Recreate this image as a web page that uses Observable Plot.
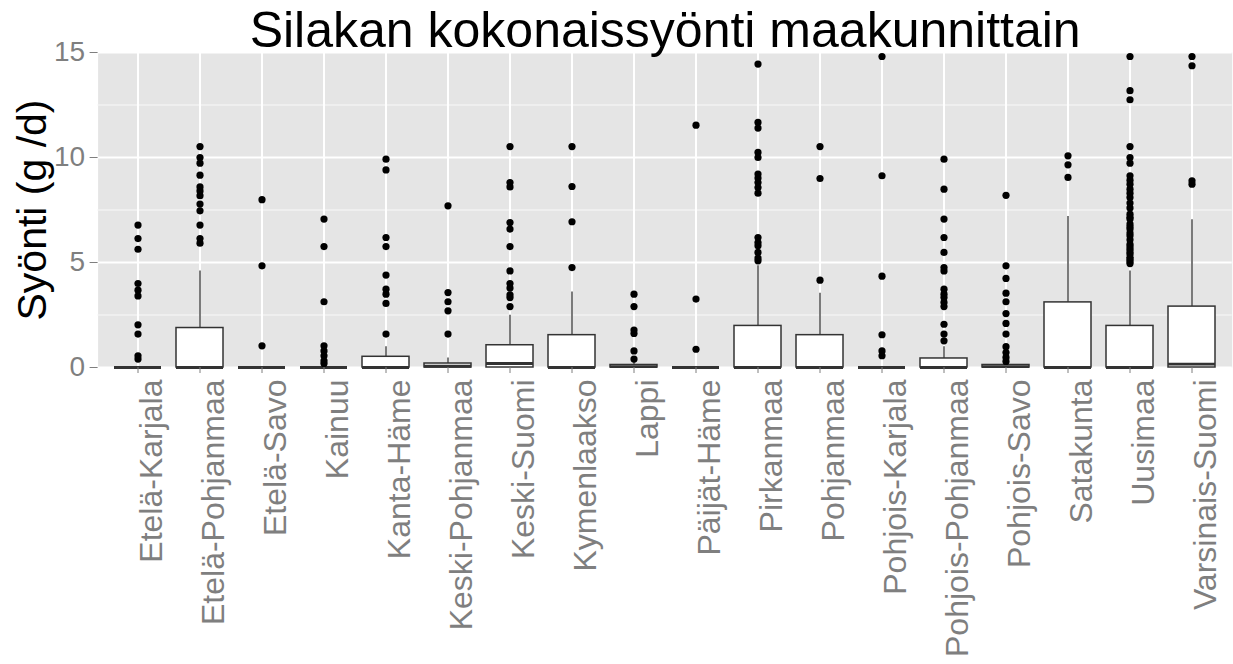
<!DOCTYPE html>
<html>
<head>
<meta charset="utf-8">
<script src="https://cdn.jsdelivr.net/npm/d3@7"></script>
<script src="https://cdn.jsdelivr.net/npm/@observablehq/plot@0.6"></script>
<style>
  html, body { margin: 0; padding: 0; background: #fff; }
  svg { display: block; }
</style>
</head>
<body>
<div id="chart"></div>
<script>
const title = "Silakan kokonaissyönti maakunnittain";
const yTitle = "Syönti (g /d)";
const regions = ["Etelä-Karjala","Etelä-Pohjanmaa","Etelä-Savo","Kainuu","Kanta-Häme","Keski-Pohjanmaa","Keski-Suomi","Kymenlaakso","Lappi","Päijät-Häme","Pirkanmaa","Pohjanmaa","Pohjois-Karjala","Pohjois-Pohjanmaa","Pohjois-Savo","Satakunta","Uusimaa","Varsinais-Suomi"];
const q1 = [0,0,0,0,0,0,0,0,0,0,0,0,0,0,0,0,0,0];
const medians = [0,0,0,0,0,0.06,0.19,0,0.04,0,0,0,0,0,0.04,0,0,0.16];
const q3 = [0,1.88,0,0,0.51,0.19,1.06,1.54,0.12,0,1.98,1.54,0,0.43,0.12,3.1,1.98,2.9];
const whiskerHigh = [0,4.6,0,0,0.99,0.45,2.49,3.6,0.25,0,4.84,3.54,0,0.99,0.25,7.19,4.6,7.03];
const outliers = [
  [6.78,6.14,5.63,4.0,3.68,3.41,2.03,1.59,0.56,0.40],
  [10.52,10.0,9.73,9.16,8.6,8.41,8.18,7.78,7.46,6.78,6.14,5.92],
  [7.99,4.84,1.03],
  [7.07,5.76,3.13,1.03,0.79,0.56,0.32,0.19],
  [9.92,9.41,6.19,5.76,4.4,3.73,3.49,3.05,1.59],
  [7.7,3.57,3.13,2.7,1.59],
  [10.52,8.81,8.6,6.9,6.59,5.76,4.6,4.0,3.78,3.46,3.33,2.9],
  [10.52,8.62,6.94,4.76],
  [3.49,2.9,1.78,1.62,0.79,0.4],
  [11.54,3.26,0.87],
  [14.45,11.67,11.4,10.24,10.0,9.21,9.02,8.81,8.57,8.3,6.19,5.95,5.8,5.48,5.21,5.08],
  [10.52,9.0,4.16],
  [14.81,9.13,4.35,1.56,0.79,0.56],
  [9.92,8.49,7.07,6.19,5.48,4.76,4.6,3.73,3.49,3.33,3.1,2.9,2.06,1.59,1.27],
  [8.2,4.84,4.24,3.54,3.13,2.57,2.1,1.59,0.99,0.71,0.48,0.29],
  [10.08,9.65,9.05],
  [14.81,13.18,12.75,10.52,10.0,9.73,9.13,8.92,8.73,8.49,8.3,8.1,7.83,7.6,7.3,7.15,7.07,6.83,6.7,6.59,6.4,6.27,6.08,5.87,5.75,5.63,5.5,5.4,5.25,5.16,5.05,4.95],
  [14.81,14.37,8.89,8.73]
];
const yTicks = [0,5,10,15];
const yMinor = [2.5,7.5,12.5];

const boxes = regions.map((r, i) => ({region: r, q1: q1[i], median: medians[i], q3: q3[i], hi: whiskerHigh[i]}));
const points = regions.flatMap((r, i) => outliers[i].map(v => ({region: r, value: v})));

const gray = "#7F7F7F";
const chart = Plot.plot({
  width: 1233,
  height: 664,
  marginLeft: 97.6,
  marginRight: 1.3,
  marginTop: 52,
  marginBottom: 297,
  style: {fontFamily: "'Liberation Sans', Arial, sans-serif", background: "#fff"},
  x: {type: "band", domain: regions, paddingInner: 0.25, paddingOuter: 0.225},
  y: {domain: [0, 15]},
  marks: [
    Plot.frame({fill: "#E5E5E5", stroke: null}),
    Plot.ruleY(yMinor, {stroke: "#F2F2F2", strokeWidth: 1.5}),
    Plot.ruleY(yTicks, {stroke: "#FFFFFF", strokeWidth: 2}),
    Plot.ruleX(regions, {x: d => d, stroke: "#FFFFFF", strokeWidth: 2}),
    Plot.ruleX(boxes, {x: "region", y1: "q3", y2: "hi", stroke: "#333333", strokeWidth: 1.3}),
    Plot.barY(boxes, {x: "region", y1: "q1", y2: "q3", fill: "#FFFFFF", stroke: "#333333", strokeWidth: 1.5}),
    Plot.tickY(boxes, {x: "region", y: "median", stroke: "#333333", strokeWidth: 2.8}),
    Plot.dot(points, {x: "region", y: "value", r: 3.6, fill: "#000000", stroke: null}),
    Plot.axisY({ticks: yTicks, tickSize: 8, tickPadding: 5, fontSize: 28, fill: gray, stroke: gray, label: null}),
    Plot.axisX({tickSize: 6, tickPadding: 0, tickFormat: () => "", stroke: gray, label: null}),
    Plot.axisX({tickSize: 0, tickPadding: 12, tickRotate: -90, dx: 14, fontSize: 32, fill: gray, label: null}),
    Plot.text([yTitle], {frameAnchor: "left", textAnchor: "middle", dx: -52, rotate: -90, fontSize: 41, lineAnchor: "bottom", fill: "#000"}),
    Plot.text([title], {frameAnchor: "top", textAnchor: "middle", dy: -6, lineAnchor: "bottom", fontSize: 50, fill: "#000"})
  ]
});
document.getElementById("chart").appendChild(chart);
</script>
</body>
</html>
